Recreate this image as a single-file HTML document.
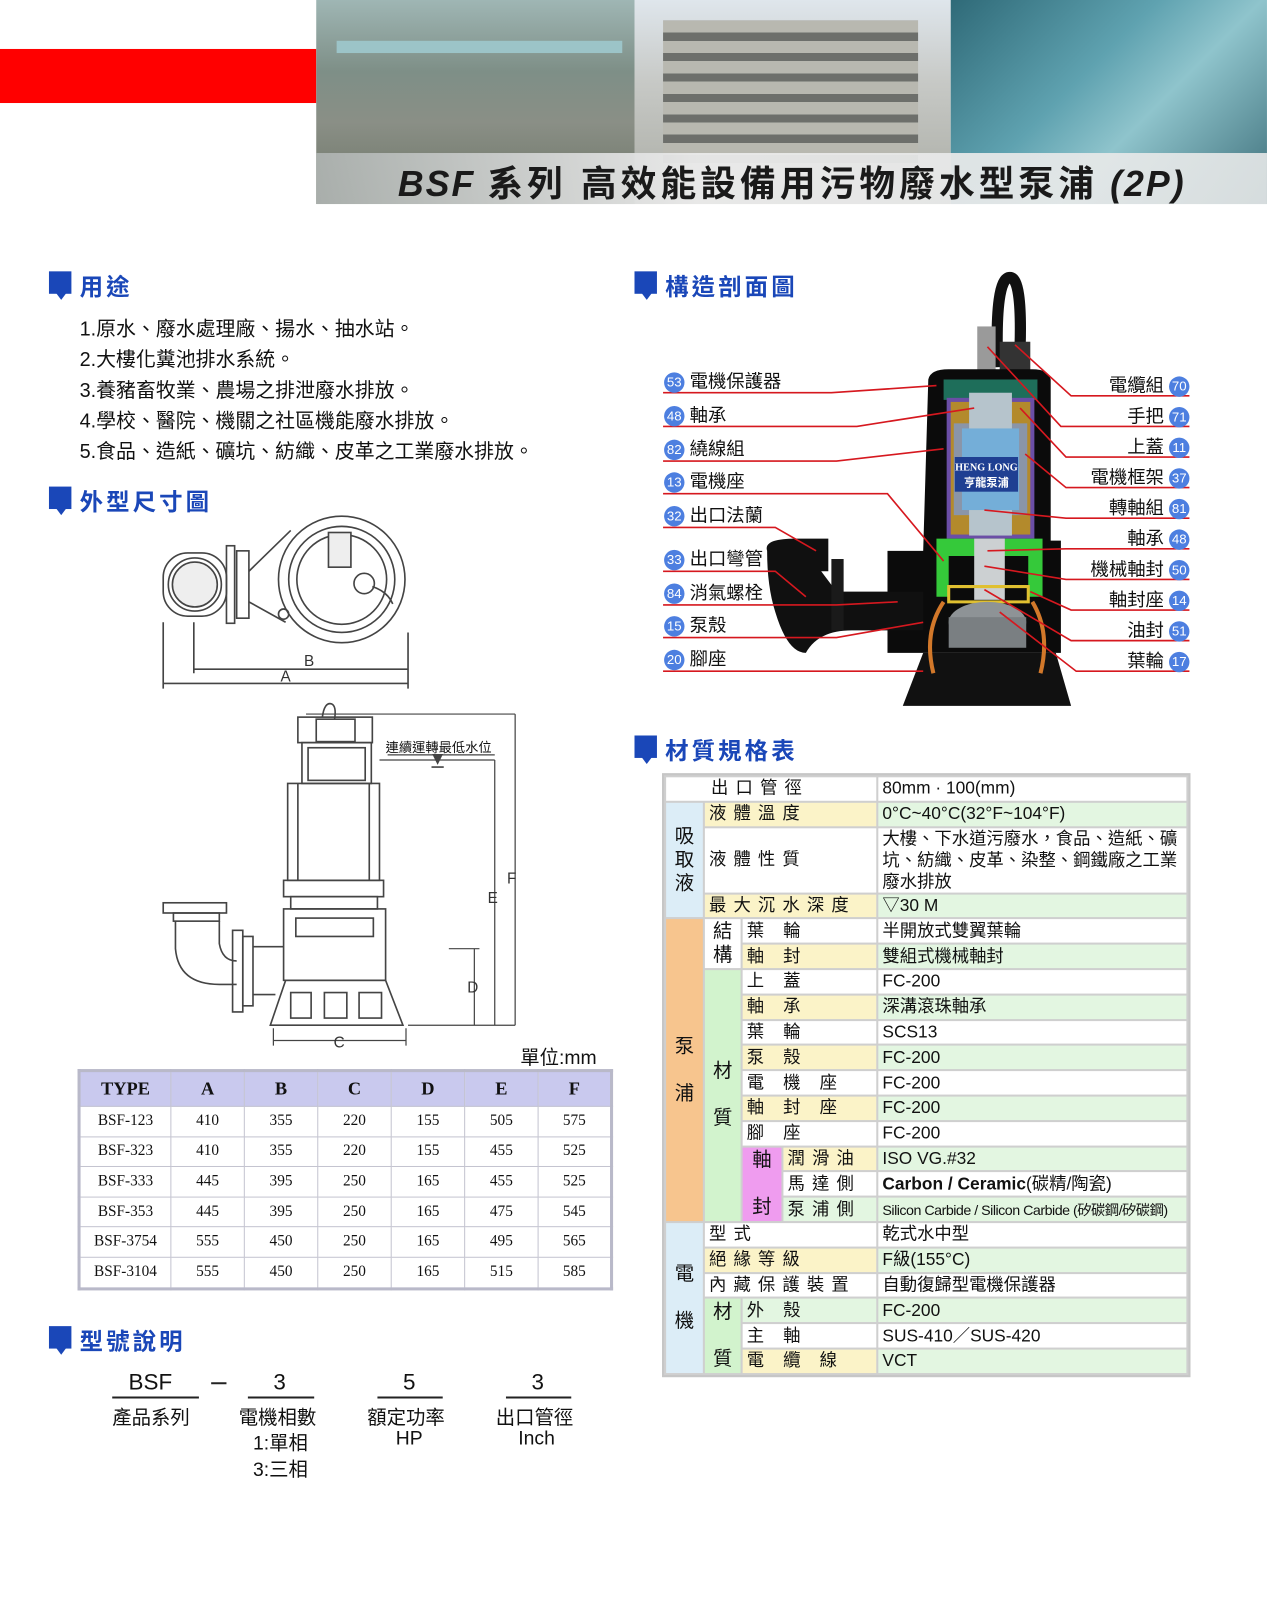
<!DOCTYPE html>
<html><head><meta charset="utf-8"><style>
html,body{margin:0;padding:0;width:1267px;height:1600px;overflow:hidden;background:#fff}
#s{position:absolute;left:0;top:0;width:1242px;height:1568px;transform:scale(1.0201);transform-origin:0 0;font-family:"Liberation Sans","Noto Sans CJK TC",sans-serif;color:#111}
.a{position:absolute;white-space:nowrap}
.h{position:absolute;font-size:23px;font-weight:bold;color:#1a47b8;letter-spacing:3px}
.ic{position:absolute;width:22px;height:22px;background:#1a47b8}
.ic:after{content:"";position:absolute;left:6px;top:20px;border-left:6px solid transparent;border-right:6px solid transparent;border-top:8px solid #1a47b8}
.li{position:absolute;left:78px;font-size:19.5px}
.n{display:inline-block;width:20px;height:20px;border-radius:50%;background:#4d7fe0;color:#fff;font-size:13px;text-align:center;line-height:20px;vertical-align:middle;font-family:"Liberation Sans Narrow","Liberation Sans",sans-serif}
.lb{position:absolute;font-size:18px}
table.d{position:absolute;left:76px;top:1048px;border-collapse:collapse;font-family:"Liberation Serif","Noto Serif CJK SC",serif;border:3px solid #b9b9c9}
table.d td{border:1px solid #c4c4d0;text-align:center;height:28.6px;font-size:15px;padding:0}
table.d tr:first-child td{background:#c9c9ee;font-size:18px;font-weight:bold;height:33px}
table.sp{position:absolute;left:649px;top:758px;width:518px;border-collapse:separate;border-spacing:2px;background:#cfcfcf;border:2px solid #c6c6c6;font-size:17px;table-layout:fixed}
table.sp td{height:22.8px;padding:0 0 0 4px;background:#fff;white-space:nowrap;overflow:hidden;line-height:20px}
.y{background:#fbf3c8!important}.g{background:#e3f6e1!important}.b{background:#dcedf7!important}.o{background:#f7c58e!important}.gg{background:#d2f3cd!important}.p{background:#ef9cef!important}
.ls{letter-spacing:7px}
.v{text-align:center;font-size:19px;line-height:23px!important;padding:0!important}
</style></head><body><div id="s">
<!-- header -->
<div class="a" style="left:0;top:48px;width:310px;height:53px;background:#f00"></div>
<div class="a" style="left:310px;top:0;width:312px;height:200px;background:linear-gradient(180deg,#9fb6b4 0%,#7e8f87 35%,#8a8f86 60%,#6c7466 100%)"></div>
<div class="a" style="left:330px;top:40px;width:280px;height:12px;background:#9cc4c8"></div>
<div class="a" style="left:622px;top:0;width:310px;height:200px;background:linear-gradient(180deg,#dfe6ec 0%,#c7c9c6 40%,#a9aba3 100%)"></div>
<div class="a" style="left:650px;top:20px;width:250px;height:140px;background:repeating-linear-gradient(180deg,#b8b8b0 0 12px,#6d6f6b 12px 20px)"></div>
<div class="a" style="left:932px;top:0;width:310px;height:200px;background:linear-gradient(135deg,#2f6a78 0%,#5fa2b0 40%,#8fc4cc 60%,#3e6f7a 100%)"></div>
<div class="a" style="left:310px;top:150px;width:932px;height:50px;background:linear-gradient(90deg,rgba(175,180,178,.9),rgba(235,235,235,.95) 40%,rgba(230,232,232,.9))"></div>
<div class="a" style="left:390px;top:152px;font-size:35px;font-weight:bold;font-style:italic;color:#1a1a1a;letter-spacing:2px">BSF <span style="font-style:normal;letter-spacing:4px">系列 高效能設備用污物廢水型泵浦</span> (2P)</div>

<!-- left headings -->
<div class="ic" style="left:48px;top:266px"></div><div class="h" style="left:78px;top:262px">用途</div>
<div class="li" style="top:306px">1.原水、廢水處理廠、揚水、抽水站。</div>
<div class="li" style="top:336px">2.大樓化糞池排水系統。</div>
<div class="li" style="top:366px">3.養豬畜牧業、農場之排泄廢水排放。</div>
<div class="li" style="top:396px">4.學校、醫院、機關之社區機能廢水排放。</div>
<div class="li" style="top:426px">5.食品、造紙、礦坑、紡織、皮革之工業廢水排放。</div>
<div class="ic" style="left:48px;top:477px"></div><div class="h" style="left:78px;top:473px">外型尺寸圖</div>
<div class="ic" style="left:48px;top:1300px"></div><div class="h" style="left:78px;top:1296px">型號說明</div>
<div class="ic" style="left:622px;top:266px"></div><div class="h" style="left:652px;top:262px">構造剖面圖</div>
<div class="ic" style="left:622px;top:721px"></div><div class="h" style="left:652px;top:717px">材質規格表</div>

<svg class="a" style="left:0;top:0" width="1242" height="1568" viewBox="0 0 1242 1568">
<g fill="none" stroke="#444" stroke-width="1.6">
<rect x="160" y="542" width="62" height="62" rx="24"/><circle cx="191" cy="573" r="26"/><circle cx="191" cy="573" r="22" fill="#eee"/>
<rect x="222" y="535" width="8" height="76"/><rect x="232" y="540" width="12" height="66"/>
<path d="M244 560 L285 520 M244 590 L280 610"/>
<circle cx="335" cy="568" r="62"/><circle cx="335" cy="568" r="52"/><circle cx="335" cy="568" r="44"/>
<rect x="322" y="522" width="22" height="34" fill="#eee"/><circle cx="357" cy="572" r="10"/><path d="M365 575 Q380 580 385 592"/>
<circle cx="278" cy="602" r="5"/>
<path d="M160 610 V675 M190 610 V660 M400 620 V675 M160 670 H400 M190 656 H400"/>
</g>
<text x="298" y="653" font-size="15" fill="#333">B</text><text x="275" y="668" font-size="15" fill="#333">A</text>
<g fill="none" stroke="#444" stroke-width="1.6">
<path d="M316 703 Q318 688 325 690 Q330 692 328 705"/>
<rect x="292" y="703" width="73" height="25"/><rect x="310" y="705" width="38" height="22"/>
<rect x="296" y="728" width="68" height="40"/><rect x="302" y="733" width="56" height="32"/>
<rect x="282" y="768" width="90" height="95"/><path d="M292 768 V863 M362 768 V863"/>
<rect x="278" y="863" width="98" height="16"/><rect x="285" y="879" width="85" height="12"/>
<rect x="278" y="891" width="100" height="70"/><rect x="290" y="900" width="76" height="18"/>
<path d="M265 1005 L280 961 H378 L395 1005 Z"/>
<rect x="285" y="973" width="20" height="25"/><rect x="318" y="973" width="22" height="25"/><rect x="352" y="973" width="22" height="25"/>
<rect x="160" y="885" width="62" height="10"/><rect x="170" y="895" width="45" height="8"/>
<path d="M172 903 V930 Q175 965 215 965 H232 M215 903 V925 Q218 942 232 942"/>
<rect x="228" y="912" width="10" height="80"/><rect x="238" y="918" width="10" height="68"/>
<path d="M248 928 H278 M248 975 H270"/>
<path d="M300 700 H505 M372 745 H485 M380 740 H485 M400 1005 H505 M465 930 V1005 M485 745 V1005 M505 700 V1005 M268 1008 V1025 M398 1008 V1025 M268 1020 H398 M440 930 H470" stroke-width="1.2"/>
<path d="M425 740 L433 740 L429 748 Z M423 752 H435" fill="#444"/>
</g>
<text x="478" y="885" font-size="15" fill="#333">E</text><text x="497" y="866" font-size="15" fill="#333">F</text><text x="458" y="973" font-size="15" fill="#333">D</text><text x="327" y="1027" font-size="15" fill="#333">C</text>
<g stroke="#222" stroke-width="2"><path d="M110 1370 H195 M243 1370 H308 M370 1370 H434 M496 1370 H560 M207 1356 H222"/></g>
<path d="M978 360 Q975 272 990 272 Q1002 272 1000 340" fill="none" stroke="#111" stroke-width="11"/>
<rect x="958" y="320" width="18" height="55" fill="#9a9a9a"/><rect x="980" y="335" width="30" height="35" fill="#333"/>
<path d="M910 372 Q912 362 930 362 H1012 Q1028 362 1030 372 V530 H1040 V640 H870 V540 L905 540 Z" fill="#0b0b0b"/>
<path d="M885 692 L905 640 H1035 L1050 692 Z" fill="#111"/>
<path d="M752 540 Q748 528 780 528 H812 V560 H805 L820 580 H905 V618 H835 Q802 618 790 640 Q772 640 760 600 Q752 575 752 540 Z" fill="#101010"/>
<rect x="815" y="548" width="12" height="70" fill="#1a1a1a"/>
<rect x="925" y="372" width="92" height="20" fill="#1e6e5a"/><rect x="928" y="390" width="86" height="138" fill="#6b4ea6"/>
<rect x="932" y="394" width="78" height="130" fill="#b38a2c"/><rect x="935" y="415" width="72" height="90" fill="#8a95a8"/>
<rect x="950" y="385" width="42" height="140" fill="#b6c4cc"/><rect x="943" y="420" width="56" height="80" fill="#74aed8"/>
<rect x="936" y="448" width="62" height="34" fill="#1f3f92"/>
<text x="967" y="461" font-size="10" font-weight="bold" fill="#fff" text-anchor="middle" font-family="Liberation Serif,serif">HENG LONG</text>
<text x="967" y="477" font-size="11" font-weight="bold" fill="#fff" text-anchor="middle">亨龍泵浦</text>
<path d="M918 528 H1022 V585 H1008 V545 H930 V585 H918 Z" fill="#35c93a"/>
<rect x="955" y="528" width="30" height="60" fill="#ccd0d2"/>
<path d="M930 575 H1008 V590 H930 Z" fill="none" stroke="#e0c030" stroke-width="3"/>
<path d="M925 590 Q905 620 915 660 M1012 590 Q1030 620 1020 660" fill="none" stroke="#d2782a" stroke-width="4"/>
<ellipse cx="968" cy="610" rx="38" ry="20" fill="#8e9396"/><rect x="930" y="605" width="76" height="30" fill="#7a7f82"/>
<g stroke="#d6181f" stroke-width="1.6" fill="none">
<path d="M650 385 H815 L918 378"/><path d="M650 418 H840 L955 400"/><path d="M650 452 H820 L925 440"/>
<path d="M650 484 H870 L925 550"/><path d="M650 517 H760 L800 540"/><path d="M650 560 H760 L790 585"/>
<path d="M650 593 H820 L880 590"/><path d="M650 625 H820 L905 610"/><path d="M650 658 H905"/>
<path d="M1166 388 H1050 L995 338"/><path d="M1166 418 H1040 L968 340"/><path d="M1166 448 H1045 L1000 400"/>
<path d="M1166 478 H1045 L1005 445"/><path d="M1166 508 H1045 L965 500"/><path d="M1166 538 H1045 L968 540"/>
<path d="M1166 568 H1045 L965 555"/><path d="M1166 598 H1050 L1010 580"/><path d="M1166 628 H1050 L965 578"/>
<path d="M1166 658 H1055 L980 600"/>
</g>
</svg>
<div class="a" style="left:378px;top:722px;font-size:13px">連續運轉最低水位</div>

<div class="lb" style="left:651px;top:360px"><span class="n">53</span> 電機保護器</div>
<div class="lb" style="left:651px;top:393px"><span class="n">48</span> 軸承</div>
<div class="lb" style="left:651px;top:426px"><span class="n">82</span> 繞線組</div>
<div class="lb" style="left:651px;top:458px"><span class="n">13</span> 電機座</div>
<div class="lb" style="left:651px;top:491px"><span class="n">32</span> 出口法蘭</div>
<div class="lb" style="left:651px;top:534px"><span class="n">33</span> 出口彎管</div>
<div class="lb" style="left:651px;top:567px"><span class="n">84</span> 消氣螺栓</div>
<div class="lb" style="left:651px;top:599px"><span class="n">15</span> 泵殼</div>
<div class="lb" style="left:651px;top:632px"><span class="n">20</span> 腳座</div>
<div class="lb" style="right:76px;top:364px">電纜組 <span class="n">70</span></div>
<div class="lb" style="right:76px;top:394px">手把 <span class="n">71</span></div>
<div class="lb" style="right:76px;top:424px">上蓋 <span class="n">11</span></div>
<div class="lb" style="right:76px;top:454px">電機框架 <span class="n">37</span></div>
<div class="lb" style="right:76px;top:484px">轉軸組 <span class="n">81</span></div>
<div class="lb" style="right:76px;top:514px">軸承 <span class="n">48</span></div>
<div class="lb" style="right:76px;top:544px">機械軸封 <span class="n">50</span></div>
<div class="lb" style="right:76px;top:574px">軸封座 <span class="n">14</span></div>
<div class="lb" style="right:76px;top:604px">油封 <span class="n">51</span></div>
<div class="lb" style="right:76px;top:634px">葉輪 <span class="n">17</span></div>

<div class="a" style="left:510px;top:1022px;font-size:19px">單位:mm</div>
<table class="d">
<tr><td style="width:88px">TYPE</td><td style="width:71px">A</td><td style="width:71px">B</td><td style="width:71px">C</td><td style="width:71px">D</td><td style="width:71px">E</td><td style="width:70px">F</td></tr>
<tr><td>BSF-123</td><td>410</td><td>355</td><td>220</td><td>155</td><td>505</td><td>575</td></tr>
<tr><td>BSF-323</td><td>410</td><td>355</td><td>220</td><td>155</td><td>455</td><td>525</td></tr>
<tr><td>BSF-333</td><td>445</td><td>395</td><td>250</td><td>165</td><td>455</td><td>525</td></tr>
<tr><td>BSF-353</td><td>445</td><td>395</td><td>250</td><td>165</td><td>475</td><td>545</td></tr>
<tr><td>BSF-3754</td><td>555</td><td>450</td><td>250</td><td>165</td><td>495</td><td>565</td></tr>
<tr><td>BSF-3104</td><td>555</td><td>450</td><td>250</td><td>165</td><td>515</td><td>585</td></tr>
</table>

<div class="a" style="left:126px;top:1342px;font-size:22px">BSF</div>
<div class="a" style="left:268px;top:1342px;font-size:22px">3</div>
<div class="a" style="left:395px;top:1342px;font-size:22px">5</div>
<div class="a" style="left:521px;top:1342px;font-size:22px">3</div>
<div class="a" style="left:110px;top:1375px;font-size:19px">產品系列</div>
<div class="a" style="left:234px;top:1375px;font-size:19px">電機相數</div>
<div class="a" style="left:360px;top:1375px;font-size:19px">額定功率</div>
<div class="a" style="left:486px;top:1375px;font-size:19px">出口管徑</div>
<div class="a" style="left:248px;top:1400px;font-size:19px">1:單相</div>
<div class="a" style="left:388px;top:1400px;font-size:19px">HP</div>
<div class="a" style="left:508px;top:1400px;font-size:19px">Inch</div>
<div class="a" style="left:248px;top:1426px;font-size:19px">3:三相</div>

<table class="sp">
<colgroup><col style="width:36px"><col style="width:35px"><col style="width:38px"><col style="width:91px"><col></colgroup>
<tr><td colspan="4" style="padding-left:44px" class="ls">出口管徑</td><td>80mm · 100(mm)</td></tr>
<tr><td rowspan="5" class="b v">吸<br>取<br>液</td><td colspan="3" class="y ls">液體溫度</td><td class="g">0°C~40°C(32°F~104°F)</td></tr>
<tr><td colspan="3" rowspan="3" class="ls">液體性質</td><td rowspan="3" style="white-space:normal;line-height:21px">大樓、下水道污廢水，食品、造紙、礦坑、紡織、皮革、染整、鋼鐵廠之工業廢水排放</td></tr>
<tr></tr><tr></tr>
<tr><td colspan="3" class="y ls">最大沉水深度</td><td class="g">▽30 M</td></tr>
<tr><td rowspan="12" class="o v">泵<br><br>浦</td><td rowspan="2" class="v">結<br>構</td><td colspan="2" class="ls">葉 輪</td><td>半開放式雙翼葉輪</td></tr>
<tr><td colspan="2" class="y ls">軸 封</td><td class="g">雙組式機械軸封</td></tr>
<tr><td rowspan="10" class="gg v">材<br><br>質</td><td colspan="2" class="ls">上 蓋</td><td>FC-200</td></tr>
<tr><td colspan="2" class="y ls">軸 承</td><td class="g">深溝滾珠軸承</td></tr>
<tr><td colspan="2" class="ls">葉 輪</td><td>SCS13</td></tr>
<tr><td colspan="2" class="y ls">泵 殼</td><td class="g">FC-200</td></tr>
<tr><td colspan="2" class="ls">電 機 座</td><td>FC-200</td></tr>
<tr><td colspan="2" class="y ls">軸 封 座</td><td class="g">FC-200</td></tr>
<tr><td colspan="2" class="ls">腳 座</td><td>FC-200</td></tr>
<tr><td rowspan="3" class="p v">軸<br><br>封</td><td class="y ls">潤滑油</td><td class="g">ISO VG.#32</td></tr>
<tr><td class="ls">馬達側</td><td style="font-weight:bold">Carbon / Ceramic<span style="font-weight:normal">(碳精/陶瓷)</span></td></tr>
<tr><td class="g ls">泵浦側</td><td class="g" style="font-size:14px;letter-spacing:-.5px">Silicon Carbide / Silicon Carbide (矽碳鋼/矽碳鋼)</td></tr>
<tr><td rowspan="6" class="b v">電<br><br>機</td><td colspan="3" class="ls">型式</td><td>乾式水中型</td></tr>
<tr><td colspan="3" class="y ls">絕緣等級</td><td class="g">F級(155°C)</td></tr>
<tr><td colspan="3" class="ls">內藏保護裝置</td><td>自動復歸型電機保護器</td></tr>
<tr><td rowspan="3" class="gg v">材<br><br>質</td><td colspan="2" class="g ls">外 殼</td><td class="g">FC-200</td></tr>
<tr><td colspan="2" class="ls">主 軸</td><td>SUS-410／SUS-420</td></tr>
<tr><td colspan="2" class="y ls">電 纜 線</td><td class="g">VCT</td></tr>
</table>
</div></body></html>
